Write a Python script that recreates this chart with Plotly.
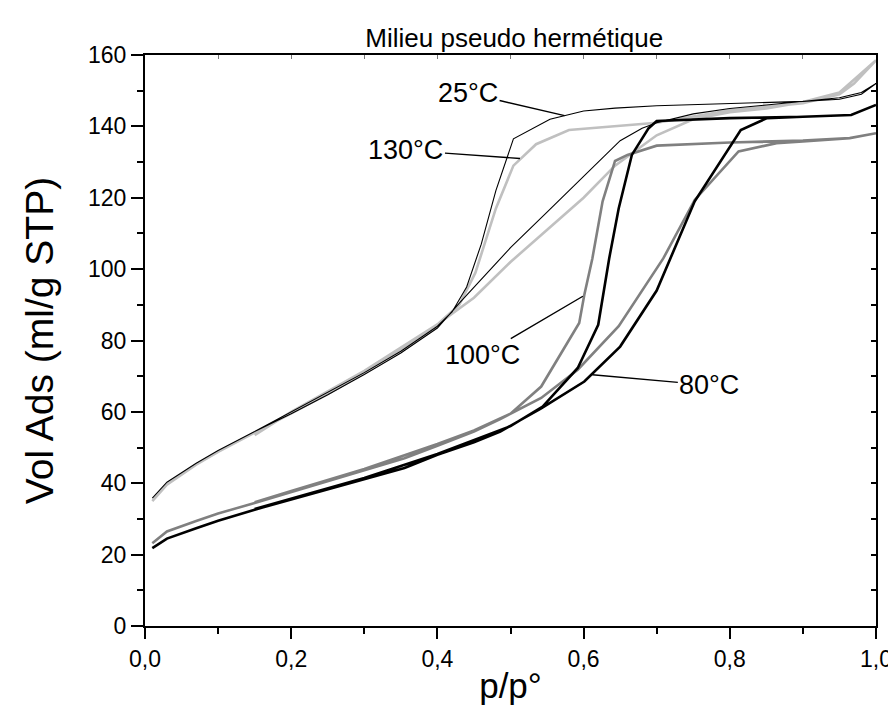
import plotly.graph_objects as go

# adsorption / desorption branches (p/p° , ml/g STP)
p_ads_25 = [0.01, 0.03, 0.07, 0.1, 0.15, 0.2, 0.25, 0.3, 0.35, 0.4, 0.43, 0.5, 0.55, 0.6, 0.65, 0.68, 0.7, 0.75, 0.8, 0.85, 0.9, 0.95, 0.98, 1.0]
v_ads_25 = [35.8, 40.3, 45.6, 49.2, 54.5, 59.5, 64.8, 70.5, 76.5, 83.5, 90.5, 106, 116, 126, 136, 139.5, 141, 143.5, 145, 146, 147, 148, 149.5, 152]
p_des_25 = [1.0, 0.98, 0.95, 0.9, 0.8, 0.7, 0.643, 0.6, 0.554, 0.504, 0.48, 0.46, 0.44, 0.42, 0.4, 0.35, 0.3, 0.25, 0.2, 0.15]
v_des_25 = [152, 149, 147.6, 147, 146.5, 145.8, 145.1, 144.3, 142, 136.5, 122, 107, 95, 88, 84, 77, 71, 65.5, 60, 54.5]

p_ads_130 = [0.01, 0.03, 0.07, 0.1, 0.15, 0.2, 0.25, 0.3, 0.35, 0.4, 0.43, 0.45, 0.5, 0.55, 0.6, 0.643, 0.7, 0.75, 0.8, 0.85, 0.9, 0.95, 0.97, 1.0]
v_ads_130 = [35, 39.6, 45.2, 48.8, 54.2, 59.5, 65, 71, 77.5, 84.5, 89, 92, 102, 111, 120, 129, 137.5, 142, 144, 145, 146.8, 149.5, 153, 158.5]
p_des_130 = [1.0, 0.97, 0.95, 0.9, 0.8, 0.7, 0.6, 0.58, 0.535, 0.504, 0.48, 0.452, 0.43, 0.4, 0.3, 0.2, 0.15]
v_des_130 = [158.5, 152, 149, 146.5, 144.5, 141, 139.3, 139, 135, 129, 117, 99, 90, 84.5, 71.5, 60, 53.5]

p_ads_80 = [0.01, 0.03, 0.07, 0.1, 0.15, 0.2, 0.25, 0.3, 0.355, 0.4, 0.45, 0.486, 0.542, 0.601, 0.65, 0.7, 0.752, 0.815, 0.851, 0.9, 0.966, 1.0]
v_ads_80 = [21.8, 24.5, 27.4, 29.5, 32.6, 35.5, 38.3, 41.3, 44.3, 48, 51.5, 54.5, 61, 68.5, 78.3, 94, 119, 139, 142.3, 142.7, 143.2, 146]
p_des_80 = [1.0, 0.966, 0.9, 0.8, 0.7, 0.689, 0.666, 0.648, 0.635, 0.62, 0.592, 0.544, 0.5, 0.45, 0.4, 0.3, 0.2, 0.15]
v_des_80 = [146, 143.2, 142.7, 142.3, 141.5, 139.5, 132, 117, 103, 84.4, 72.3, 61.5, 56, 52, 48.2, 41.5, 35.8, 32.8]

p_ads_100 = [0.01, 0.03, 0.07, 0.1, 0.15, 0.2, 0.25, 0.3, 0.355, 0.4, 0.45, 0.486, 0.542, 0.592, 0.648, 0.709, 0.752, 0.812, 0.864, 0.9, 0.964, 1.0]
v_ads_100 = [23.2, 26.5, 29.4, 31.5, 34.5, 37.5, 40.5, 43.7, 47, 50.5, 54.5, 58, 63.9, 71.8, 84, 103, 119.4, 133, 135.3, 135.8, 136.7, 138.1]
p_des_100 = [1.0, 0.964, 0.9, 0.8, 0.7, 0.66, 0.643, 0.626, 0.612, 0.601, 0.594, 0.542, 0.5, 0.45, 0.4, 0.3, 0.2, 0.15]
v_des_100 = [138.1, 136.7, 136, 135.5, 134.6, 132, 130.3, 119, 103, 92.8, 84.9, 67.1, 59.5, 54.8, 51, 44, 37.8, 34.7]

labels = ["130°C", "100°C", "80°C", "25°C"]
# label text position and the curve point each leader line points at
label_pos = [(0.357, 133.3), (0.462, 75.9), (0.772, 67.5), (0.442, 149.3)]
label_tip = [(0.513, 131), (0.599, 92.4), (0.612, 70.4), (0.574, 143)]

series = [
    (p_ads_130 + p_des_130, v_ads_130 + v_des_130, "#c0c0c0", 2.6),
    (p_ads_100 + p_des_100, v_ads_100 + v_des_100, "#808080", 2.6),
    (p_ads_80 + p_des_80, v_ads_80 + v_des_80, "#000000", 2.6),
    (p_ads_25 + p_des_25, v_ads_25 + v_des_25, "#000000", 1.1),
]

FONT = "Liberation Sans, Arial, sans-serif"

fig = go.Figure()
for (px, py, col, w), name in zip(series, labels):
    fig.add_trace(go.Scatter(x=px, y=py, mode="lines", name=name,
                             line=dict(color=col, width=w), showlegend=False))

for name, (tx, ty), (hx, hy) in zip(labels, label_pos, label_tip):
    fig.add_annotation(x=hx, y=hy, ax=tx, ay=ty, axref="x", ayref="y",
                       text=name, showarrow=True, arrowhead=0, arrowwidth=1.4,
                       arrowcolor="black", font=dict(size=27, color="black"))

fig.update_layout(
    width=896, height=713,
    margin=dict(l=137, r=19, t=47, b=95),
    plot_bgcolor="white", paper_bgcolor="white",
    font=dict(family=FONT, color="black"),
    separators=",.",
    title=dict(text="Milieu pseudo hermétique", x=0.565, xanchor="center",
               y=1 - 30 / 713, yanchor="middle", font=dict(size=26)),
    xaxis=dict(range=[0, 1], tickvals=[0, 0.2, 0.4, 0.6, 0.8, 1.0], tickformat=".1f",
               ticks="outside", ticklen=11, tickwidth=2, tickcolor="black",
               minor=dict(dtick=0.1, ticks="outside", ticklen=6, tickwidth=2, tickcolor="black"),
               showline=True, linecolor="black", linewidth=2, showgrid=False, zeroline=False,
               tickfont=dict(size=23),
               title=dict(text="p/p°", font=dict(size=35), standoff=3)),
    yaxis=dict(range=[0, 160], dtick=20, ticks="outside", ticklen=12, tickwidth=2, tickcolor="black",
               minor=dict(dtick=10, ticks="outside", ticklen=6, tickwidth=2, tickcolor="black"),
               showline=True, linecolor="black", linewidth=2, showgrid=False, zeroline=False,
               tickfont=dict(size=23),
               title=dict(text="Vol Ads (ml/g STP)", font=dict(size=39), standoff=22)),
    xaxis2=dict(range=[0, 1], overlaying="x", side="top", anchor="y", dtick=0.1,
                ticks="inside", ticklen=4, tickwidth=1, tickcolor="#777777",
                showticklabels=False, showline=True, linecolor="black", linewidth=2,
                showgrid=False, zeroline=False),
    yaxis2=dict(range=[0, 160], overlaying="y", side="right", anchor="x", dtick=10,
                ticks="inside", ticklen=5, tickwidth=2, tickcolor="black",
                showticklabels=False, showline=True, linecolor="black", linewidth=2,
                showgrid=False, zeroline=False),
)
# invisible carriers so the mirrored top/right axes get drawn
fig.add_trace(go.Scatter(x=[0], y=[0], xaxis="x2", yaxis="y2", mode="markers",
                         marker=dict(opacity=0), showlegend=False, hoverinfo="skip"))

fig.write_html("out.html")
